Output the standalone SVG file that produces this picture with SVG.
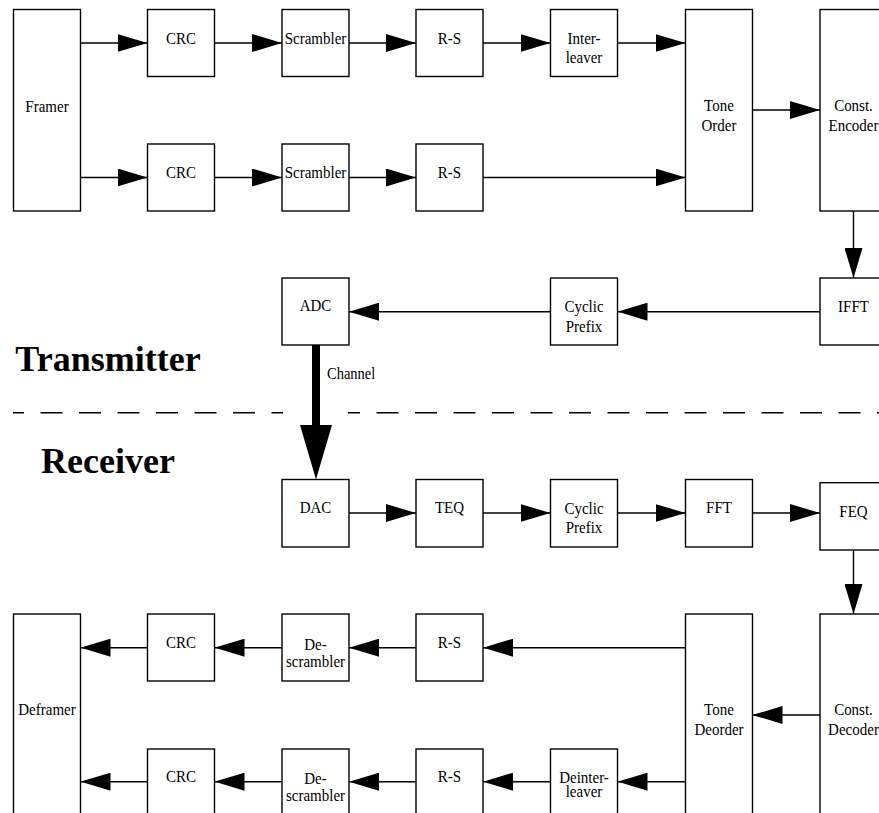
<svg xmlns="http://www.w3.org/2000/svg" width="879" height="813" viewBox="0 0 879 813">
<style>
.b{fill:#fff;stroke:#000;stroke-width:1.4}
.t{font-family:"Liberation Serif","Times New Roman",serif;font-size:15px;fill:#000;text-anchor:middle}
.big{font-family:"Liberation Serif","Times New Roman",serif;font-size:36px;font-weight:bold;fill:#000;text-anchor:middle}
.c{stroke:#000;stroke-width:1.4;fill:none;marker-end:url(#ah)}
.d{stroke:#000;stroke-width:1.4;fill:none;stroke-dasharray:22 16.5}
</style>
<defs>
<marker id="ah" markerUnits="userSpaceOnUse" markerWidth="30" markerHeight="18" refX="30" refY="9" orient="auto" viewBox="0 0 30 18">
<path d="M0,0 L30,9 L0,18 Z" fill="#000"/>
</marker>
</defs>
<rect width="879" height="813" fill="#fff"/>

<g id="connectors">
<line class="c" x1="80.5" y1="43" x2="147.5" y2="43"/>
<line class="c" x1="214.5" y1="43" x2="282" y2="43"/>
<line class="c" x1="349" y1="43" x2="416" y2="43"/>
<line class="c" x1="483" y1="43" x2="550.5" y2="43"/>
<line class="c" x1="617.5" y1="43" x2="685.5" y2="43"/>
<line class="c" x1="80.5" y1="177.5" x2="147.5" y2="177.5"/>
<line class="c" x1="214.5" y1="177.5" x2="282" y2="177.5"/>
<line class="c" x1="349" y1="177.5" x2="416" y2="177.5"/>
<line class="c" x1="483" y1="177.5" x2="685.5" y2="177.5"/>
<line class="c" x1="752.5" y1="110" x2="820" y2="110"/>
<line class="c" x1="853.5" y1="211" x2="853.5" y2="278"/>
<line class="c" x1="820" y1="311.7" x2="617.5" y2="311.7"/>
<line class="c" x1="550.5" y1="311.7" x2="349" y2="311.7"/>
<line x1="316" y1="345" x2="316" y2="428" stroke="#000" stroke-width="8"/>
<polygon points="300,425 332,425 316,479.5" fill="#000"/>
<line class="c" x1="349" y1="513" x2="416" y2="513"/>
<line class="c" x1="483" y1="513" x2="550.5" y2="513"/>
<line class="c" x1="617.5" y1="513" x2="685.5" y2="513"/>
<line class="c" x1="752.5" y1="513" x2="820" y2="513"/>
<line class="c" x1="853.5" y1="550" x2="853.5" y2="614"/>
<line class="c" x1="820" y1="715" x2="752.5" y2="715"/>
<line class="c" x1="685.5" y1="647.7" x2="483" y2="647.7"/>
<line class="c" x1="416" y1="647.7" x2="349" y2="647.7"/>
<line class="c" x1="282" y1="647.7" x2="214.5" y2="647.7"/>
<line class="c" x1="147.5" y1="647.7" x2="80.5" y2="647.7"/>
<line class="c" x1="685.5" y1="781.7" x2="617.5" y2="781.7"/>
<line class="c" x1="550.5" y1="781.7" x2="483" y2="781.7"/>
<line class="c" x1="416" y1="781.7" x2="349" y2="781.7"/>
<line class="c" x1="282" y1="781.7" x2="214.5" y2="781.7"/>
<line class="c" x1="147.5" y1="781.7" x2="80.5" y2="781.7"/>
<line class="d" x1="13" y1="412.7" x2="283" y2="412.7" stroke-dashoffset="11"/>
<line class="d" x1="348" y1="412.7" x2="879" y2="412.7" stroke-dashoffset="10"/>
</g>

<g id="framer"><rect class="b" x="13.5" y="9.5" width="67" height="201.5"/><text class="t" transform="translate(47,111.5) scale(1,1.15)">Framer</text></g>
<g id="crc1"><rect class="b" x="147.5" y="9.5" width="67" height="67"/><text class="t" transform="translate(181,43.5) scale(1,1.15)">CRC</text></g>
<g id="scrambler1"><rect class="b" x="282" y="9.5" width="67" height="67"/><text class="t" transform="translate(315.5,43.5) scale(1,1.15)">Scrambler</text></g>
<g id="rs1"><rect class="b" x="416" y="9.5" width="67" height="67"/><text class="t" transform="translate(449.5,43.5) scale(1,1.15)">R-S</text></g>
<g id="interleaver"><rect class="b" x="550.5" y="9.5" width="67" height="67"/><text class="t" transform="translate(584,43.5) scale(1,1.15)">Inter-</text><text class="t" transform="translate(584,62.5) scale(1,1.15)">leaver</text></g>
<g id="crc2"><rect class="b" x="147.5" y="144" width="67" height="67"/><text class="t" transform="translate(181,178) scale(1,1.15)">CRC</text></g>
<g id="scrambler2"><rect class="b" x="282" y="144" width="67" height="67"/><text class="t" transform="translate(315.5,178) scale(1,1.15)">Scrambler</text></g>
<g id="rs2"><rect class="b" x="416" y="144" width="67" height="67"/><text class="t" transform="translate(449.5,178) scale(1,1.15)">R-S</text></g>
<g id="toneorder"><rect class="b" x="685.5" y="9.5" width="67" height="201.5"/><text class="t" transform="translate(719,111) scale(1,1.15)">Tone</text><text class="t" transform="translate(719,130.5) scale(1,1.15)">Order</text></g>
<g id="constencoder"><rect class="b" x="820" y="9.5" width="67" height="201.5"/><text class="t" transform="translate(853.5,111) scale(1,1.15)">Const.</text><text class="t" transform="translate(853.5,130.5) scale(1,1.15)">Encoder</text></g>
<g id="ifft"><rect class="b" x="820" y="278" width="67" height="67"/><text class="t" transform="translate(853.5,312) scale(1,1.15)">IFFT</text></g>
<g id="cyclicprefix1"><rect class="b" x="550.5" y="278" width="67" height="67"/><text class="t" transform="translate(584,312) scale(1,1.15)">Cyclic</text><text class="t" transform="translate(584,331.5) scale(1,1.15)">Prefix</text></g>
<g id="adc"><rect class="b" x="282" y="278" width="67" height="67"/><text class="t" transform="translate(315.5,311) scale(1,1.15)">ADC</text></g>
<g id="channel-label"><text transform="translate(327,379) scale(1,1.15)" style="font-family:'Liberation Serif','Times New Roman',serif;font-size:14.5px;fill:#000">Channel</text></g>
<g id="transmitter-label"><text class="big" x="108" y="371">Transmitter</text></g>
<g id="receiver-label"><text class="big" x="108" y="472.7">Receiver</text></g>
<g id="dac"><rect class="b" x="282" y="479.5" width="67" height="67.5"/><text class="t" transform="translate(315.5,513) scale(1,1.15)">DAC</text></g>
<g id="teq"><rect class="b" x="416" y="479.5" width="67" height="67.5"/><text class="t" transform="translate(449.5,513) scale(1,1.15)">TEQ</text></g>
<g id="cyclicprefix2"><rect class="b" x="550.5" y="479.5" width="67" height="67.5"/><text class="t" transform="translate(584,513.5) scale(1,1.15)">Cyclic</text><text class="t" transform="translate(584,533) scale(1,1.15)">Prefix</text></g>
<g id="fft"><rect class="b" x="685.5" y="479.5" width="67" height="67.5"/><text class="t" transform="translate(719,513) scale(1,1.15)">FFT</text></g>
<g id="feq"><rect class="b" x="820" y="482.7" width="67" height="67.3"/><text class="t" transform="translate(853.5,516.5) scale(1,1.15)">FEQ</text></g>
<g id="deframer"><rect class="b" x="13.5" y="614" width="67" height="202"/><text class="t" transform="translate(47,715) scale(1,1.15)">Deframer</text></g>
<g id="crc3"><rect class="b" x="147.5" y="614" width="67" height="67"/><text class="t" transform="translate(181,648) scale(1,1.15)">CRC</text></g>
<g id="descrambler1"><rect class="b" x="282" y="614" width="67" height="67"/><text class="t" transform="translate(315.5,649.5) scale(1,1.15)">De-</text><text class="t" transform="translate(315.5,667) scale(1,1.15)">scrambler</text></g>
<g id="rs3"><rect class="b" x="416" y="614" width="67" height="67"/><text class="t" transform="translate(449.5,648) scale(1,1.15)">R-S</text></g>
<g id="tonedeorder"><rect class="b" x="685.5" y="614" width="67" height="202"/><text class="t" transform="translate(719,715) scale(1,1.15)">Tone</text><text class="t" transform="translate(719,734.5) scale(1,1.15)">Deorder</text></g>
<g id="constdecoder"><rect class="b" x="820" y="614" width="67" height="202"/><text class="t" transform="translate(853.5,715) scale(1,1.15)">Const.</text><text class="t" transform="translate(853.5,734.5) scale(1,1.15)">Decoder</text></g>
<g id="crc4"><rect class="b" x="147.5" y="749" width="67" height="67"/><text class="t" transform="translate(181,782) scale(1,1.15)">CRC</text></g>
<g id="descrambler2"><rect class="b" x="282" y="749" width="67" height="67"/><text class="t" transform="translate(315.5,783.5) scale(1,1.15)">De-</text><text class="t" transform="translate(315.5,801) scale(1,1.15)">scrambler</text></g>
<g id="rs4"><rect class="b" x="416" y="749" width="67" height="67"/><text class="t" transform="translate(449.5,782) scale(1,1.15)">R-S</text></g>
<g id="deinterleaver"><rect class="b" x="550.5" y="749" width="67" height="67"/><text class="t" transform="translate(584,782.5) scale(1,1.15)">Deinter-</text><text class="t" transform="translate(584,797) scale(1,1.15)">leaver</text></g>
</svg>
